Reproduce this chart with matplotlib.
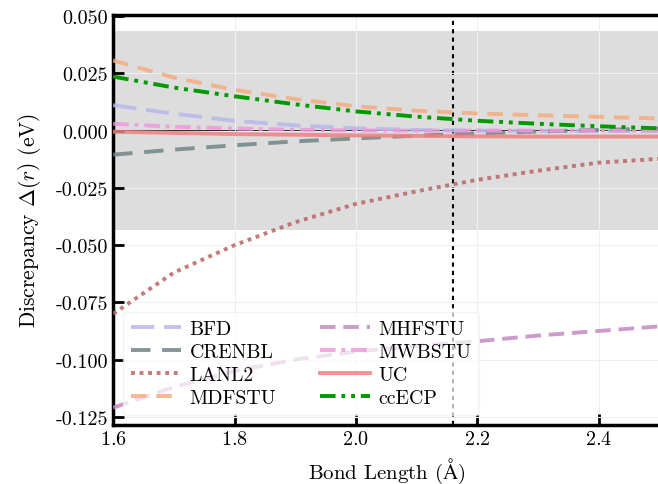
import matplotlib
matplotlib.use("Agg")
import matplotlib.pyplot as plt
import numpy as np

plt.rcParams['font.family'] = 'serif'
plt.rcParams['font.serif'] = ['cmr10', 'DejaVu Serif']
plt.rcParams['mathtext.fontset'] = 'cm'
plt.rcParams['axes.formatter.use_mathtext'] = True

r = [1.6, 1.7, 1.8, 1.9, 2.0, 2.1, 2.2, 2.3, 2.4, 2.5]
bfd    = [0.0111, 0.0074, 0.0043, 0.0023, 0.0010, 0.0003, 0.0000, -0.0002, -0.0002, -0.0002]
crenbl = [-0.0105, -0.0083, -0.0064, -0.0047, -0.0034, -0.0022, -0.0012, -0.0004, 0.0003, 0.0009]
lanl2  = [-0.080, -0.062, -0.050, -0.040, -0.032, -0.0265, -0.0215, -0.0175, -0.0140, -0.0123]
mdfstu = [0.0306, 0.0232, 0.0178, 0.0138, 0.0106, 0.0087, 0.0075, 0.0067, 0.0060, 0.0053]
mhfstu = [-0.121, -0.112, -0.105, -0.100, -0.0965, -0.094, -0.092, -0.0895, -0.0875, -0.0855]
mwbstu = [0.0030, 0.0017, 0.0009, 0.0004, 0.0001, 0.0000, 0.0000, 0.0000, 0.0000, 0.0000]
uc     = [-0.0005, -0.0010, -0.0015, -0.0018, -0.0021, -0.0023, -0.0025, -0.0026, -0.0026, -0.0026]
ccecp  = [0.0236, 0.0188, 0.0150, 0.0115, 0.0084, 0.0061, 0.0043, 0.0030, 0.0019, 0.0010]

chem_acc = 0.0434
r_eq = 2.16

fig = plt.figure(figsize=(6.58, 4.85), dpi=100)
ax = fig.add_axes([0.172, 0.122, 0.83, 0.845])

ax.axhspan(-chem_acc, chem_acc, color='#dddddd', zorder=0, lw=0)
ax.grid(True, color='#efefef', lw=0.8, zorder=0.5)
ax.axhline(0, color='black', lw=1.2, zorder=1)
ax.axvline(r_eq, color='black', ls=(0, (2, 2)), lw=1.5, zorder=1)

lw = 2.8
ax.plot(r, bfd, color='#b8b8ec', ls=(0, (6, 2.5)), lw=lw, label='BFD', alpha=0.85, zorder=3)
ax.plot(r, crenbl, color='#6f8484', ls=(0, (5, 3)), lw=lw, label='CRENBL', alpha=0.85, zorder=3)
ax.plot(r, lanl2, color='#b96464', ls=(0, (1, 1.2)), lw=lw, label='LANL2', alpha=0.85, zorder=3)
ax.plot(r, mdfstu, color='#f4ac80', ls=(0, (4, 2.5)), lw=lw, label='MDFSTU', alpha=0.85, zorder=3)
ax.plot(r, mhfstu, color='#c48ac4', ls=(0, (4, 2)), lw=lw, label='MHFSTU', alpha=0.85, zorder=3)
ax.plot(r, mwbstu, color='#f098dc', ls=(0, (4, 1.5, 1, 1.5)), lw=lw, label='MWBSTU', alpha=0.85, zorder=3)
ax.plot(r, uc, color='#f08080', ls='-', lw=lw, label='UC', alpha=0.85, zorder=3)
ax.plot(r, ccecp, color='#009900', ls=(0, (4, 1.5, 1, 1.5, 1, 1.5)), lw=lw, label='ccECP', zorder=3)

ax.set_xlim(1.6, 2.5)
ax.set_ylim(-0.1285, 0.0505)
ax.set_xticks([1.6, 1.8, 2.0, 2.2, 2.4])
ax.set_yticks([0.050, 0.025, 0.0, -0.025, -0.050, -0.075, -0.100, -0.125])
ax.yaxis.set_major_formatter(matplotlib.ticker.FormatStrFormatter('%.3f'))
ax.tick_params(direction='in', length=8, width=2, labelsize=14.5, top=False, right=False)
for s in ax.spines.values():
    s.set_linewidth(2.5)

ax.set_xlabel(r'Bond Length ($\mathrm{\AA}$)', fontsize=15, labelpad=6)
ax.set_ylabel(r'Discrepancy $\Delta(r)$ (eV)', fontsize=15.5, labelpad=9)

leg = ax.legend(ncol=2, loc='lower left', fontsize=14.3, handlelength=2.5,
                handletextpad=0.45, columnspacing=2.2, labelspacing=0.25,
                framealpha=0.7, edgecolor='#eeeeee', borderaxespad=0.5)

fig.savefig('out.png', dpi=100)
